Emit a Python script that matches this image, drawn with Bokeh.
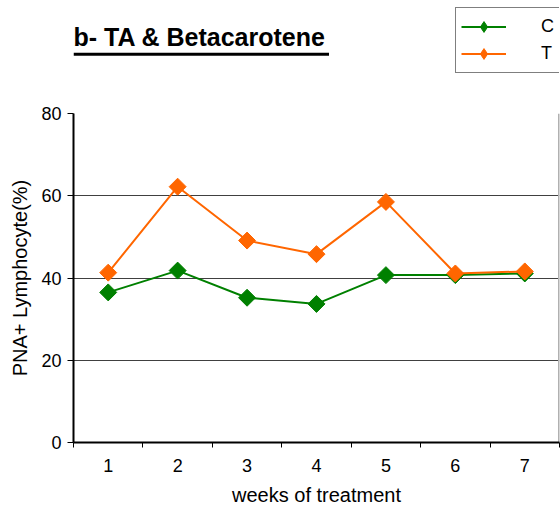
import math
from bokeh.plotting import figure
from bokeh.layouts import column
from bokeh.models import (Range1d, FixedTicker, Legend, LegendItem, Label, BoxAnnotation)
from bokeh.embed import file_html
from bokeh.resources import INLINE

weeks = [1, 2, 3, 4, 5, 6, 7]
week_labels = ["1", "2", "3", "4", "5", "6", "7"]
control = [36.5, 41.8, 35.2, 33.7, 40.7, 40.7, 41.1]
treated = [41.3, 62.2, 49.1, 45.8, 58.5, 41.1, 41.6]
series_names = ["C", "T"]
y_ticks = [0, 20, 40, 60, 80]
title_text = "b- TA & Betacarotene"

FONT = "Liberation Sans"
GREEN = "#008000"
ORANGE = "#FF6600"
NAN = float("nan")

x_range = Range1d(0.5, 7.5)

# ---------- header strip: title + legend ----------
head = figure(width=560, height=105, output_backend="svg", toolbar_location=None,
              x_range=x_range, y_range=Range1d(105, 0),
              min_border_left=73, min_border_right=1, min_border_top=0, min_border_bottom=0)
head.axis.visible = False
head.grid.visible = False
head.outline_line_color = None
head.background_fill_color = "white"
head.border_fill_color = "white"

head.add_layout(Label(x=0.5, y=36.5, text=title_text, text_font=FONT,
                      text_font_size="25px", text_font_style="bold",
                      text_color="black",
                      text_baseline="alphabetic", text_align="left"))
head.add_layout(BoxAnnotation(left=0.5, right=4.18, bottom=55.3, top=52.3,
                              fill_color="black", fill_alpha=1, line_color=None))

# legend glyph renderers (no visible data in the header)
hl_c = head.line([NAN], [NAN], line_color=GREEN, line_width=2)
hm_c = head.scatter([NAN], [NAN], marker="diamond", size=14, fill_color=GREEN, line_color=GREEN)
hl_t = head.line([NAN], [NAN], line_color=ORANGE, line_width=2)
hm_t = head.scatter([NAN], [NAN], marker="diamond", size=14, fill_color=ORANGE, line_color=ORANGE)

legend = Legend(items=[LegendItem(label=series_names[0], renderers=[hl_c, hm_c]),
                       LegendItem(label=series_names[1], renderers=[hl_t, hm_t])],
                location=(382, 32), orientation="vertical",
                border_line_color="black", border_line_width=1,
                background_fill_color="white", background_fill_alpha=1,
                label_text_font=FONT, label_text_font_size="18px",
                label_text_color="black",
                glyph_width=45, glyph_height=27, label_standoff=35,
                spacing=0, padding=5, margin=0, label_width=40)
head.add_layout(legend, "center")

# ---------- main chart ----------
p = figure(width=560, height=405, output_backend="svg", toolbar_location=None,
           x_range=x_range, y_range=Range1d(0, 80),
           min_border_left=73, min_border_right=1, min_border_top=8, min_border_bottom=68)
p.background_fill_color = "white"
p.border_fill_color = "white"
p.outline_line_color = None

p.xaxis.ticker = FixedTicker(ticks=weeks, minor_ticks=[w - 0.5 for w in weeks] + [7.5])
p.xaxis.major_label_overrides = {w: l for w, l in zip(weeks, week_labels)}
p.xaxis.major_tick_out = 0
p.xaxis.major_tick_in = 0
p.xaxis.minor_tick_out = 5
p.xaxis.minor_tick_in = 0
p.xaxis.minor_tick_line_color = "black"
p.xaxis.axis_line_width = 2
p.xaxis.axis_line_color = "black"
p.xaxis.major_label_text_font = FONT
p.xaxis.major_label_text_font_size = "18px"
p.xaxis.major_label_text_color = "black"
p.xaxis.major_label_standoff = 11
p.xaxis.axis_label = "weeks of treatment"
p.xaxis.axis_label_text_font = FONT
p.xaxis.axis_label_text_font_size = "20px"
p.xaxis.axis_label_text_font_style = "normal"
p.xaxis.axis_label_text_color = "black"
p.xaxis.axis_label_standoff = 9

p.yaxis.ticker = FixedTicker(ticks=y_ticks, minor_ticks=[])
p.yaxis.major_tick_out = 6
p.yaxis.major_tick_in = 0
p.yaxis.major_tick_line_color = "black"
p.yaxis.axis_line_width = 2
p.yaxis.axis_line_color = "black"
p.yaxis.major_label_text_font = FONT
p.yaxis.major_label_text_font_size = "18px"
p.yaxis.major_label_text_color = "black"
p.yaxis.major_label_standoff = 6
p.yaxis.axis_label = "PNA+ Lymphocyte(%)"
p.yaxis.axis_label_text_font = FONT
p.yaxis.axis_label_text_font_size = "20px"
p.yaxis.axis_label_text_font_style = "normal"
p.yaxis.axis_label_text_color = "black"
p.yaxis.axis_label_standoff = 7

p.xgrid.grid_line_color = None
p.ygrid.ticker = FixedTicker(ticks=y_ticks)
p.ygrid.grid_line_color = "#404040"
p.ygrid.grid_line_width = 1

# right border of the plot area
p.segment(x0=[7.5], y0=[0], x1=[7.5], y1=[80], line_color="#b0b0b0", line_width=3)

p.line(weeks, control, line_color=GREEN, line_width=2)
p.scatter(weeks, control, marker="square", size=12, angle=math.pi / 4,
          fill_color=GREEN, line_color=GREEN)
p.line(weeks, treated, line_color=ORANGE, line_width=2)
p.scatter(weeks, treated, marker="square", size=12, angle=math.pi / 4,
          fill_color=ORANGE, line_color=ORANGE)

layout = column(head, p, spacing=0)
open("out.html", "w").write(file_html(layout, INLINE))
